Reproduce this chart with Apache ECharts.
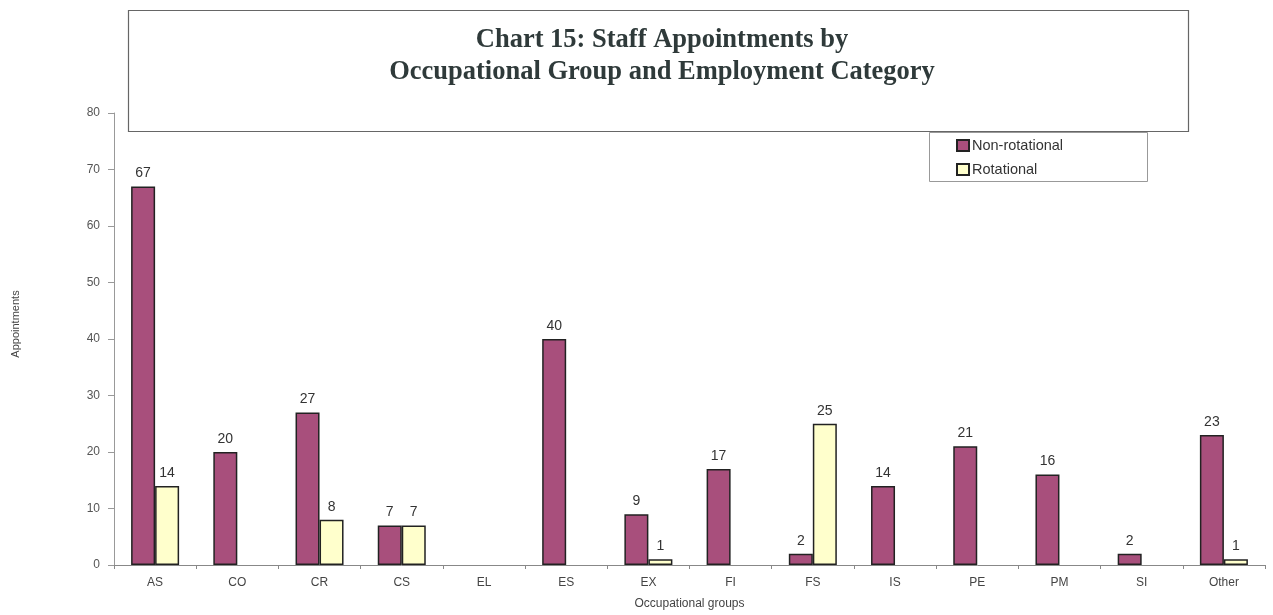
<!DOCTYPE html>
<html>
<head>
<meta charset="utf-8">
<script src="https://cdn.jsdelivr.net/npm/echarts@6/dist/echarts.min.js"></script>
<style>
html, body { margin: 0; padding: 0; background: #fff; }
#main { width: 1273px; height: 615px; }
</style>
</head>
<body>
<div id="main"></div>
<script>
// categories and values
var groups = ['AS', 'CO', 'CR', 'CS', 'EL', 'ES', 'EX', 'FI', 'FS', 'IS', 'PE', 'PM', 'SI', 'Other'];
var nonRotational = [67, 20, 27, 7, null, 40, 9, 17, 2, 14, 21, 16, 2, 23];
var rotational = [14, null, 8, 7, null, null, 1, null, 25, null, null, null, null, 1];
var seriesNames = ['Non-rotational', 'Rotational'];
var yTicks = [0, 80, 10]; // min, max, interval

var chart = echarts.init(document.getElementById('main'));

var labelStyle = {
    show: true,
    position: 'top',
    distance: 6,
    color: '#333',
    fontSize: 14,
    fontFamily: 'Liberation Sans, Arial'
};

chart.setOption({
    animation: false,
    textStyle: { fontFamily: 'Liberation Sans, Arial' },
    title: {
        text: 'Chart 15: Staff Appointments by\nOccupational Group and Employment Category',
        left: 657,
        textAlign: 'center',
        top: 19,
        textStyle: {
            fontFamily: 'Liberation Serif, Times New Roman',
            fontWeight: 'bold',
            fontSize: 26.5,
            lineHeight: 32,
            color: '#2f3a3a'
        }
    },
    graphic: [
        {   // title frame
            type: 'rect',
            z: 5,
            shape: { x: 128.5, y: 10.5, width: 1060, height: 121 },
            style: { fill: 'none', stroke: '#666', lineWidth: 1.2 }
        },
        {   // legend frame
            type: 'rect',
            z: 5,
            shape: { x: 929.5, y: 132.5, width: 218, height: 49 },
            style: { fill: '#fff', stroke: '#999', lineWidth: 1 }
        }
    ],
    legend: {
        data: seriesNames,
        orient: 'vertical',
        left: 951,
        top: 133,
        z: 10,
        itemWidth: 12,
        itemHeight: 11,
        itemGap: 9,
        icon: 'rect',
        textStyle: { fontSize: 14.5, color: '#333', padding: [0, 0, 0, -2] }
    },
    grid: {
        left: 114,
        right: 8,
        top: 113,
        bottom: 48
    },
    xAxis: {
        type: 'category',
        data: groups,
        name: 'Occupational groups',
        nameLocation: 'middle',
        nameGap: 33,
        nameTextStyle: { fontSize: 12, color: '#444' },
        axisLine: { lineStyle: { color: '#888', width: 1 } },
        axisTick: { show: true, interval: 0, length: 4, lineStyle: { color: '#888' } },
        axisLabel: { interval: 0, fontSize: 12, color: '#444', margin: 12 }
    },
    yAxis: {
        type: 'value',
        min: yTicks[0],
        max: yTicks[1],
        interval: yTicks[2],
        name: 'Appointments',
        nameLocation: 'middle',
        nameGap: 93,
        nameTextStyle: { fontSize: 11, color: '#444', padding: [0, 0, 0, 30] },
        axisLine: { show: true, lineStyle: { color: '#999', width: 1 } },
        axisTick: { show: true, length: 6, lineStyle: { color: '#999' } },
        splitLine: { show: false },
        axisLabel: { fontSize: 12, color: '#555', margin: 14 }
    },
    series: [
        {
            name: seriesNames[0],
            type: 'bar',
            data: nonRotational,
            barWidth: 24,
            barGap: '0%',
            itemStyle: { color: '#a84f7c', borderColor: '#222', borderWidth: 1.5 },
            label: labelStyle
        },
        {
            name: seriesNames[1],
            type: 'bar',
            data: rotational,
            barWidth: 24,
            itemStyle: { color: '#ffffcc', borderColor: '#222', borderWidth: 1.5 },
            label: labelStyle
        }
    ]
});
</script>
</body>
</html>
